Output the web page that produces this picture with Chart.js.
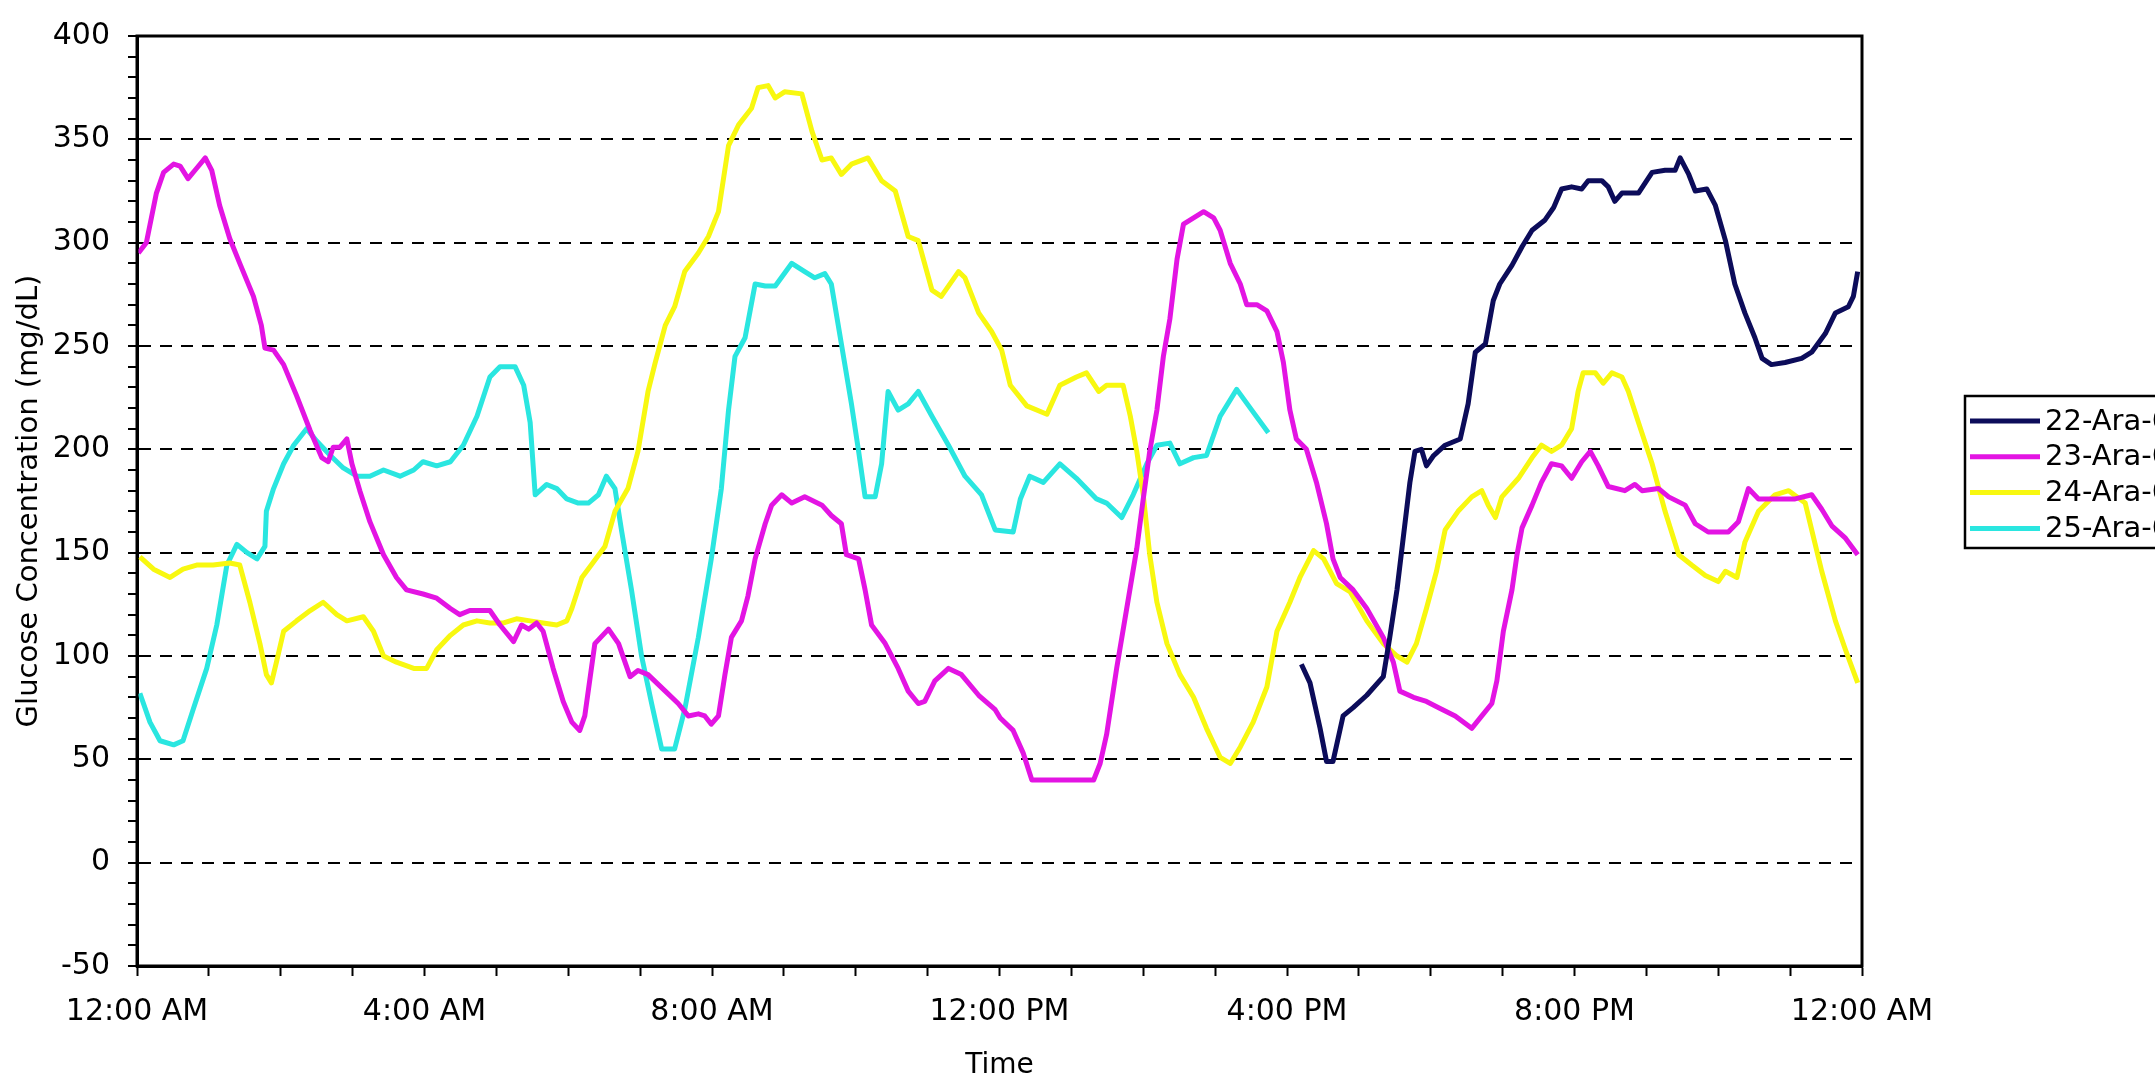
<!DOCTYPE html>
<html>
<head>
<meta charset="utf-8">
<title>Glucose Concentration</title>
<script src="https://cdn.jsdelivr.net/npm/chart.js@4.4.1/dist/chart.umd.min.js"></script>
<style>
  html, body { margin: 0; padding: 0; background: #fff; overflow: hidden; }
  #wrap { width: 2155px; height: 1083px; }
</style>
</head>
<body>
<div id="wrap"><canvas id="glucoseChart"></canvas></div>
<script>
// ===== DATA =====
const seriesNames = ["22-Ara-06", "23-Ara-06", "24-Ara-06", "25-Ara-06"];
const seriesColors = ["#0c0c5a", "#e314e3", "#f8f810", "#2ae6e0"];
const timeTickLabels = ["12:00 AM", "4:00 AM", "8:00 AM", "12:00 PM", "4:00 PM", "8:00 PM", "12:00 AM"];

// hours since midnight / mg/dL
const hours22 = [16.20, 16.32, 16.46, 16.55, 16.64, 16.78, 16.92, 17.11, 17.34, 17.43, 17.53, 17.62, 17.71, 17.78, 17.87, 17.94, 18.04, 18.20, 18.41, 18.52, 18.62, 18.76, 18.87, 18.96, 19.13, 19.27, 19.41, 19.59, 19.71, 19.82, 19.96, 20.10, 20.19, 20.38, 20.47, 20.56, 20.66, 20.89, 21.08, 21.26, 21.40, 21.47, 21.59, 21.68, 21.84, 21.96, 22.10, 22.23, 22.37, 22.51, 22.61, 22.74, 22.93, 23.16, 23.30, 23.49, 23.63, 23.81, 23.88, 23.94];
const glucose22 = [96, 87, 65, 49, 49, 71, 75, 81, 90, 109, 132, 158, 184, 199, 200, 192, 197, 202, 205, 222, 247, 251, 272, 280, 289, 298, 306, 311, 317, 326, 327, 326, 330, 330, 327, 320, 324, 324, 334, 335, 335, 341, 333, 325, 326, 318, 301, 280, 266, 254, 244, 241, 242, 244, 247, 256, 266, 269, 274, 286];

const hours23 = [0.02, 0.13, 0.27, 0.37, 0.51, 0.60, 0.71, 0.83, 0.95, 1.04, 1.15, 1.29, 1.43, 1.62, 1.73, 1.78, 1.90, 2.04, 2.22, 2.41, 2.57, 2.66, 2.73, 2.82, 2.92, 2.99, 3.10, 3.24, 3.43, 3.61, 3.75, 3.98, 4.17, 4.36, 4.49, 4.63, 4.91, 5.05, 5.24, 5.35, 5.45, 5.56, 5.65, 5.79, 5.93, 6.05, 6.16, 6.23, 6.37, 6.56, 6.70, 6.86, 6.97, 7.11, 7.35, 7.53, 7.67, 7.81, 7.90, 7.99, 8.09, 8.18, 8.27, 8.41, 8.50, 8.60, 8.74, 8.83, 8.97, 9.11, 9.29, 9.53, 9.66, 9.80, 9.87, 10.04, 10.13, 10.22, 10.41, 10.59, 10.73, 10.87, 10.96, 11.10, 11.29, 11.47, 11.71, 11.94, 12.01, 12.19, 12.33, 12.45, 12.70, 12.93, 13.31, 13.40, 13.49, 13.63, 13.77, 13.91, 14.00, 14.09, 14.19, 14.28, 14.37, 14.47, 14.56, 14.70, 14.84, 14.98, 15.07, 15.21, 15.35, 15.44, 15.58, 15.72, 15.86, 15.95, 16.04, 16.13, 16.27, 16.41, 16.55, 16.64, 16.74, 16.92, 17.11, 17.34, 17.48, 17.57, 17.76, 17.94, 18.11, 18.34, 18.57, 18.71, 18.85, 18.92, 19.01, 19.13, 19.20, 19.27, 19.41, 19.54, 19.68, 19.82, 19.96, 20.10, 20.22, 20.33, 20.47, 20.70, 20.84, 20.94, 21.17, 21.31, 21.54, 21.68, 21.86, 22.14, 22.28, 22.42, 22.56, 22.79, 23.07, 23.30, 23.44, 23.58, 23.77, 23.94];
const glucose23 = [295, 300, 324, 334, 338, 337, 331, 336, 341, 335, 318, 302, 290, 274, 260, 249, 248, 241, 226, 209, 196, 194, 201, 201, 205, 193, 180, 165, 149, 138, 132, 130, 128, 123, 120, 122, 122, 115, 107, 115, 113, 116, 112, 94, 78, 68, 64, 71, 106, 113, 106, 90, 93, 91, 83, 77, 71, 72, 71, 67, 71, 91, 109, 117, 129, 147, 164, 173, 178, 174, 177, 173, 168, 164, 149, 147, 132, 115, 106, 94, 83, 77, 78, 88, 94, 91, 81, 74, 70, 64, 53, 40, 40, 40, 40, 48, 62, 94, 123, 152, 176, 199, 219, 245, 263, 292, 309, 312, 315, 312, 306, 290, 280, 270, 270, 267, 257, 242, 219, 205, 200, 184, 164, 147, 138, 132, 123, 109, 97, 83, 80, 78, 75, 71, 65, 71, 77, 88, 112, 132, 149, 162, 173, 184, 193, 192, 186, 194, 199, 192, 182, 180, 183, 180, 181, 177, 173, 164, 160, 160, 165, 181, 176, 176, 176, 178, 171, 163, 157, 149];

const hours24 = [0.04, 0.23, 0.46, 0.64, 0.83, 1.06, 1.29, 1.43, 1.57, 1.71, 1.80, 1.87, 1.94, 2.04, 2.22, 2.41, 2.59, 2.78, 2.92, 3.15, 3.29, 3.43, 3.61, 3.85, 4.03, 4.17, 4.36, 4.54, 4.73, 4.91, 5.10, 5.28, 5.47, 5.65, 5.84, 5.98, 6.05, 6.19, 6.32, 6.51, 6.65, 6.83, 6.97, 7.11, 7.21, 7.35, 7.48, 7.62, 7.81, 7.95, 8.09, 8.23, 8.37, 8.55, 8.64, 8.78, 8.88, 9.01, 9.25, 9.39, 9.53, 9.66, 9.80, 9.94, 10.17, 10.36, 10.55, 10.73, 10.87, 11.06, 11.19, 11.43, 11.52, 11.71, 11.89, 12.03, 12.15, 12.38, 12.66, 12.84, 13.07, 13.21, 13.38, 13.49, 13.72, 13.82, 13.91, 14.00, 14.09, 14.19, 14.33, 14.51, 14.70, 14.88, 15.07, 15.21, 15.35, 15.53, 15.72, 15.86, 16.04, 16.18, 16.37, 16.51, 16.69, 16.88, 17.11, 17.34, 17.53, 17.67, 17.80, 17.94, 18.08, 18.20, 18.38, 18.57, 18.71, 18.80, 18.90, 18.99, 19.22, 19.41, 19.54, 19.68, 19.82, 19.96, 20.05, 20.12, 20.29, 20.40, 20.52, 20.66, 20.75, 20.89, 21.08, 21.26, 21.45, 21.63, 21.82, 22.00, 22.10, 22.26, 22.37, 22.56, 22.79, 22.98, 23.21, 23.30, 23.44, 23.63, 23.77, 23.94];
const glucose24 = [148, 142, 138, 142, 144, 144, 145, 144, 126, 106, 91, 87, 97, 112, 117, 122, 126, 120, 117, 119, 112, 100, 97, 94, 94, 103, 110, 115, 117, 116, 116, 118, 117, 116, 115, 117, 123, 138, 144, 153, 170, 181, 199, 228, 242, 260, 269, 286, 295, 303, 315, 347, 357, 365, 375, 376, 370, 373, 372, 354, 340, 341, 333, 338, 341, 330, 325, 303, 301, 277, 274, 286, 283, 266, 257, 248, 231, 221, 217, 231, 235, 237, 228, 231, 231, 216, 199, 178, 149, 126, 106, 91, 80, 65, 51, 48, 56, 68, 85, 112, 126, 138, 151, 147, 135, 131, 117, 106, 100, 97, 106, 123, 141, 161, 170, 177, 180, 173, 167, 177, 186, 196, 202, 199, 202, 210, 228, 237, 237, 232, 237, 235, 228, 213, 193, 170, 149, 144, 139, 136, 141, 138, 155, 170, 178, 180, 174, 161, 141, 117, 103, 87];

const hours25 = [0.04, 0.18, 0.32, 0.51, 0.64, 0.78, 0.97, 1.11, 1.25, 1.39, 1.53, 1.67, 1.78, 1.80, 1.90, 2.04, 2.18, 2.36, 2.50, 2.69, 2.87, 3.06, 3.24, 3.43, 3.66, 3.85, 3.98, 4.17, 4.36, 4.54, 4.73, 4.91, 5.05, 5.26, 5.38, 5.47, 5.54, 5.70, 5.84, 5.98, 6.14, 6.28, 6.42, 6.53, 6.65, 6.74, 6.88, 7.02, 7.16, 7.30, 7.48, 7.62, 7.81, 7.99, 8.13, 8.23, 8.32, 8.46, 8.60, 8.74, 8.88, 9.11, 9.29, 9.43, 9.57, 9.66, 9.80, 9.94, 10.04, 10.13, 10.27, 10.36, 10.45, 10.59, 10.73, 10.87, 11.06, 11.29, 11.52, 11.75, 11.94, 12.19, 12.29, 12.42, 12.61, 12.84, 13.07, 13.35, 13.49, 13.70, 13.86, 14.05, 14.19, 14.37, 14.51, 14.70, 14.88, 15.07, 15.30, 15.53, 15.74];
const glucose25 = [82, 68, 59, 57, 59, 74, 94, 115, 144, 154, 150, 147, 153, 170, 181, 193, 202, 210, 204, 197, 191, 187, 187, 190, 187, 190, 194, 192, 194, 202, 216, 235, 240, 240, 231, 213, 178, 183, 181, 176, 174, 174, 178, 187, 181, 161, 132, 100, 77, 55, 55, 74, 109, 147, 181, 219, 245, 254, 280, 279, 279, 290, 286, 283, 285, 280, 251, 222, 199, 177, 177, 193, 228, 219, 222, 228, 216, 202, 187, 178, 161, 160, 176, 187, 184, 193, 186, 176, 174, 167, 178, 193, 202, 203, 193, 196, 197, 216, 229, 218, 208];

const yMin = -50, yMax = 400;

// ===== HELPERS =====
function toPoints(hrs, vals) {
  return hrs.map((h, i) => ({ x: h, y: vals[i] }));
}

const allHours = [hours22, hours23, hours24, hours25];
const allValues = [glucose22, glucose23, glucose24, glucose25];

const datasets = seriesNames.map((name, i) => ({
  label: name,
  data: toPoints(allHours[i], allValues[i]),
  borderColor: seriesColors[i],
  backgroundColor: seriesColors[i],
  borderWidth: 5,
  pointRadius: 0,
  tension: 0,
  borderJoinStyle: "round",
  fill: false
}));

// frame around plot area + boxed legend at right
const framePlugin = {
  id: "frame",
  afterDatasetsDraw(chart) {
    const { ctx, chartArea: a } = chart;
    ctx.save();
    ctx.strokeStyle = "#000";
    ctx.lineWidth = 3;
    ctx.strokeRect(a.left, a.top, a.right - a.left, a.bottom - a.top);
    ctx.restore();
  },
  afterDraw(chart) {
    const ctx = chart.ctx;
    const boxX = 1965, boxY = 396, rowH = 35.8;
    ctx.save();
    ctx.strokeStyle = "#000";
    ctx.lineWidth = 2.5;
    ctx.strokeRect(boxX, boxY, 400, 152);
    ctx.font = "29px 'DejaVu Sans'";
    ctx.textBaseline = "middle";
    ctx.fillStyle = "#000";
    chart.data.datasets.forEach((ds, i) => {
      const y = boxY + 25 + i * rowH;
      ctx.strokeStyle = ds.borderColor;
      ctx.lineWidth = 5;
      ctx.beginPath();
      ctx.moveTo(1970, y);
      ctx.lineTo(2040, y);
      ctx.stroke();
      ctx.fillText(ds.label, 2045, y + 1);
    });
    ctx.restore();
  }
};

new Chart(document.getElementById("glucoseChart"), {
  type: "line",
  data: { datasets },
  options: {
    responsive: true,
    maintainAspectRatio: false,
    animation: false,
    layout: { padding: { top: 25, right: 293, left: 0, bottom: 0 } },
    plugins: {
      legend: { display: false },
      tooltip: { enabled: false }
    },
    scales: {
      x: {
        type: "linear",
        min: 0,
        max: 24,
        afterFit(scale) { scale.height = 117; },
        grid: {
          drawOnChartArea: false,
          tickLength: 10,
          tickColor: "#000",
          tickWidth: 2
        },
        border: { display: true, color: "#000", width: 3 },
        ticks: {
          stepSize: 1,
          autoSkip: false,
          maxRotation: 0,
          padding: 18,
          color: "#000",
          font: { family: "'DejaVu Sans'", size: 30 },
          callback: v => (v % 4 === 0 ? timeTickLabels[v / 4] : "")
        },
        title: {
          display: true,
          text: "Time",
          color: "#000",
          font: { family: "'DejaVu Sans'", size: 28 },
          padding: { top: 0, bottom: 0 }
        }
      },
      y: {
        min: yMin,
        max: yMax,
        afterFit(scale) { scale.width = 137; },
        grid: {
          color: c => (c.tick.value % 50 === 0 && c.tick.value > yMin && c.tick.value < yMax) ? "#000" : "rgba(0,0,0,0)",
          lineWidth: 2,
          tickLength: 9,
          tickColor: "#000",
          tickWidth: 2
        },
        border: { display: true, color: "#000", width: 3, dash: [12, 9] },
        ticks: {
          stepSize: 10,
          autoSkip: false,
          padding: 18,
          color: "#000",
          font: { family: "'DejaVu Sans'", size: 30 },
          callback: v => (v % 50 === 0 ? String(v) : "")
        },
        title: {
          display: true,
          text: "Glucose Concentration (mg/dL)",
          color: "#000",
          font: { family: "'DejaVu Sans'", size: 29 },
          padding: { top: 12, bottom: 12 }
        }
      }
    }
  },
  plugins: [framePlugin]
});
</script>
</body>
</html>
